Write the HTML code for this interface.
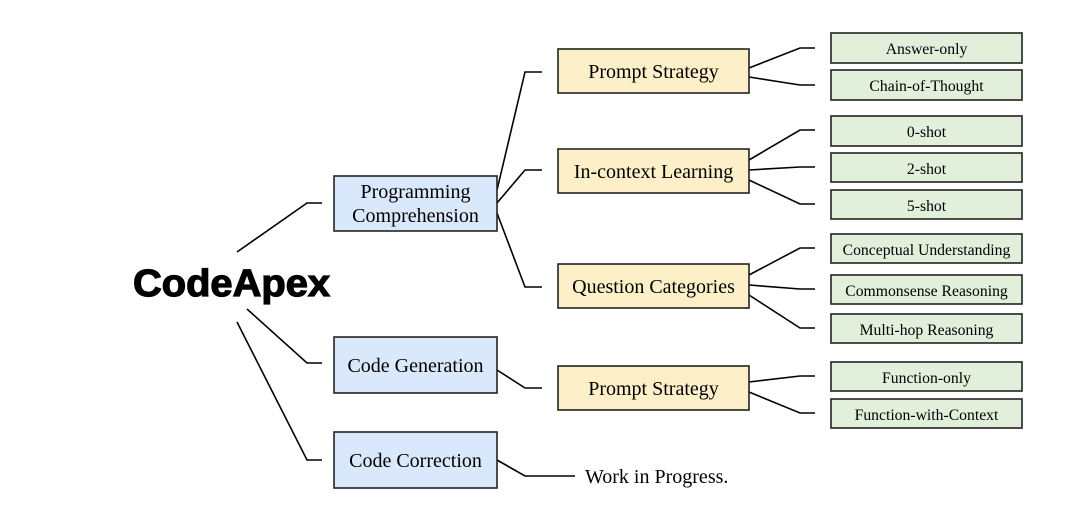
<!DOCTYPE html>
<html><head><meta charset="utf-8"><style>html,body{margin:0;padding:0;background:#fff}svg{display:block}</style></head>
<body>
<svg width="1088" height="516" viewBox="0 0 1088 516" xmlns="http://www.w3.org/2000/svg">
<g fill="none" stroke="#000" stroke-width="1.6">
<polyline points="237,252 307,203 322,203"/>
<polyline points="247,309 307,363 322,363"/>
<polyline points="237,322 307,460 322,460"/>
<polyline points="497,190 525,72 542,72"/>
<polyline points="497,203 525,170 542,170"/>
<polyline points="497,213 525,287 542,287"/>
<polyline points="497,370 525,388 542,388"/>
<polyline points="497,460 525,476 575,476"/>
<polyline points="749,68 800,48 815,48"/>
<polyline points="749,77 800,85 815,85"/>
<polyline points="749,160 800,130 815,130"/>
<polyline points="749,170 800,167 815,167"/>
<polyline points="749,180 800,204 815,204"/>
<polyline points="749,275 800,248 815,248"/>
<polyline points="749,285 800,289 815,289"/>
<polyline points="749,295 800,328 815,328"/>
<polyline points="749,382 800,376 815,376"/>
<polyline points="749,392 800,413 815,413"/>
</g>
<g stroke="#222" stroke-width="1.6">
<rect x="334" y="176" width="163" height="55" fill="#dae8fc"/>
<rect x="334" y="337" width="163" height="56" fill="#dae8fc"/>
<rect x="334" y="432" width="163" height="56" fill="#dae8fc"/>
<rect x="558" y="49" width="191" height="44" fill="#fdf0c9"/>
<rect x="558" y="149" width="191" height="44" fill="#fdf0c9"/>
<rect x="558" y="264" width="191" height="44" fill="#fdf0c9"/>
<rect x="558" y="366" width="191" height="44" fill="#fdf0c9"/>
<g fill="#e2efda">
<rect x="831" y="33" width="191" height="30"/>
<rect x="831" y="70" width="191" height="30"/>
<rect x="831" y="116" width="191" height="30"/>
<rect x="831" y="153" width="191" height="29"/>
<rect x="831" y="190" width="191" height="29"/>
<rect x="831" y="234" width="191" height="29"/>
<rect x="831" y="275" width="191" height="29"/>
<rect x="831" y="314" width="191" height="29"/>
<rect x="831" y="362" width="191" height="29"/>
<rect x="831" y="399" width="191" height="29"/>
</g>
</g>
<text x="133" y="296" font-family="Liberation Sans, sans-serif" font-weight="bold" font-size="38" stroke="#000" stroke-width="1.2" textLength="197" lengthAdjust="spacingAndGlyphs">CodeApex</text>
<g font-family="Liberation Serif, serif" font-size="20" text-anchor="middle" fill="#000">
<text x="415.5" y="198">Programming</text>
<text x="415.5" y="222">Comprehension</text>
<text x="415.5" y="372">Code Generation</text>
<text x="415.5" y="467">Code Correction</text>
<text x="653.5" y="78">Prompt Strategy</text>
<text x="653.5" y="178">In-context Learning</text>
<text x="653.5" y="293">Question Categories</text>
<text x="653.5" y="395">Prompt Strategy</text>
<text x="585" y="483" text-anchor="start">Work in Progress.</text>
</g>
<g font-family="Liberation Serif, serif" font-size="15.7" text-anchor="middle" fill="#000">
<text x="926.5" y="54">Answer-only</text>
<text x="926.5" y="91">Chain-of-Thought</text>
<text x="926.5" y="137">0-shot</text>
<text x="926.5" y="174">2-shot</text>
<text x="926.5" y="211">5-shot</text>
<text x="926.5" y="255">Conceptual Understanding</text>
<text x="926.5" y="296">Commonsense Reasoning</text>
<text x="926.5" y="335">Multi-hop Reasoning</text>
<text x="926.5" y="383">Function-only</text>
<text x="926.5" y="420">Function-with-Context</text>
</g>
</svg>
</body></html>
